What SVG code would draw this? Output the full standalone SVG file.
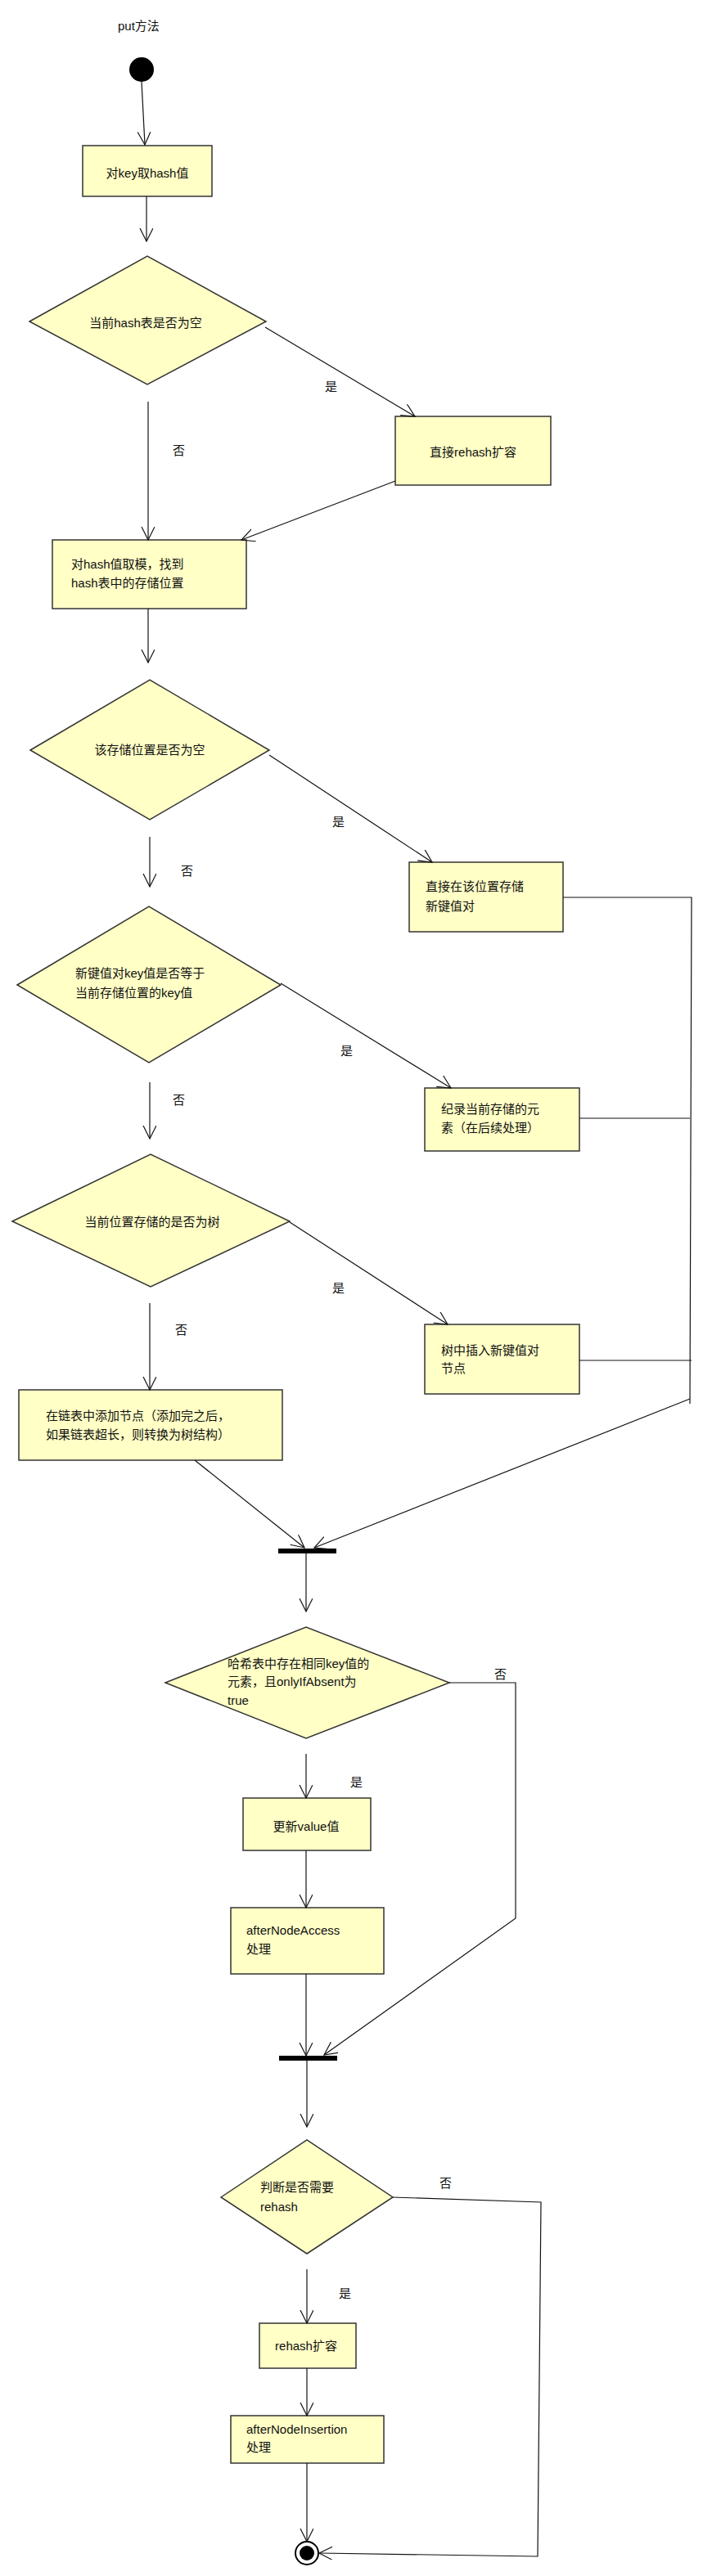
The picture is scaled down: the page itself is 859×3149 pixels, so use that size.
<svg xmlns="http://www.w3.org/2000/svg" width="859" height="3149" viewBox="0 0 859 3149">
<style>
.n{fill:#ffffc6;stroke:#333;stroke-width:1.5}
.c{fill:none;stroke:#111;stroke-width:1.2}
.t{font-family:"Liberation Sans","Noto Sans CJK SC",sans-serif;font-size:15px;fill:#111}
.m{text-anchor:middle}
</style>
<defs>
<marker id="a" markerUnits="userSpaceOnUse" markerWidth="20" markerHeight="20" refX="16" refY="8" orient="auto">
<path d="M0,0 L16,8 L0,16" fill="none" stroke="#111" stroke-width="1.2"/>
</marker>
</defs>
<rect width="859" height="3149" fill="#fff"/>
<text class="t" x="144" y="37">put方法</text>
<g id="start"><circle cx="173" cy="85" r="15" fill="#000"/></g>
<g id="n1"><rect class="n" x="101" y="178" width="158" height="62"/><text class="t m" x="180" y="217">对key取hash值</text></g>
<g id="d1"><polygon class="n" points="36,393 180,313 325,393 180,470"/><text class="t m" x="178" y="400">当前hash表是否为空</text></g>
<g id="n2"><rect class="n" x="483" y="509" width="190" height="84"/><text class="t m" x="578" y="558">直接rehash扩容</text></g>
<g id="n3"><rect class="n" x="64" y="660" width="237" height="84"/><text class="t" x="87" y="695">对hash值取模，找到</text><text class="t" x="87" y="718">hash表中的存储位置</text></g>
<g id="d2"><polygon class="n" points="37,917 183,831 329,917 183,1002"/><text class="t m" x="183" y="922">该存储位置是否为空</text></g>
<g id="n4"><rect class="n" x="500" y="1054" width="188" height="85"/><text class="t" x="520" y="1089">直接在该位置存储</text><text class="t" x="520" y="1113">新键值对</text></g>
<g id="d3"><polygon class="n" points="21,1204 182,1108 343,1204 182,1299"/><text class="t" x="92" y="1195">新键值对key值是否等于</text><text class="t" x="92" y="1219">当前存储位置的key值</text></g>
<g id="n5"><rect class="n" x="519" y="1330" width="189" height="77"/><text class="t" x="539" y="1361">纪录当前存储的元</text><text class="t" x="539" y="1384">素（在后续处理）</text></g>
<g id="d4"><polygon class="n" points="15,1493 184,1411 354,1493 184,1573"/><text class="t m" x="186" y="1499">当前位置存储的是否为树</text></g>
<g id="n6"><rect class="n" x="519" y="1619" width="189" height="85"/><text class="t" x="539" y="1656">树中插入新键值对</text><text class="t" x="539" y="1678">节点</text></g>
<g id="n7"><rect class="n" x="23" y="1699" width="322" height="86"/><text class="t" x="56" y="1736">在链表中添加节点（添加完之后，</text><text class="t" x="56" y="1759">如果链表超长，则转换为树结构）</text></g>
<g id="fork1"><rect x="340" y="1893" width="71" height="6" fill="#000"/></g>
<g id="d5"><polygon class="n" points="202,2057 374,1989 549,2057 374,2125"/><text class="t" x="278" y="2039" font-size="14">哈希表中存在相同key值的</text><text class="t" x="278" y="2061" font-size="14">元素，且onlyIfAbsent为</text><text class="t" x="278" y="2084" font-size="14">true</text></g>
<g id="n8"><rect class="n" x="297" y="2198" width="156" height="64"/><text class="t m" x="374" y="2238">更新value值</text></g>
<g id="n9"><rect class="n" x="282" y="2332" width="187" height="81"/><text class="t" x="301" y="2365">afterNodeAccess</text><text class="t" x="301" y="2388">处理</text></g>
<g id="fork2"><rect x="341" y="2513" width="71" height="6" fill="#000"/></g>
<g id="d6"><polygon class="n" points="270,2686 375,2616 480,2686 375,2755"/><text class="t" x="318" y="2679">判断是否需要</text><text class="t" x="318" y="2703">rehash</text></g>
<g id="n10"><rect class="n" x="317" y="2840" width="118" height="55"/><text class="t m" x="374" y="2873">rehash扩容</text></g>
<g id="n11"><rect class="n" x="282" y="2953" width="187" height="58"/><text class="t" x="301" y="2975">afterNodeInsertion</text><text class="t" x="301" y="2997">处理</text></g>
<g id="end"><circle cx="375" cy="3121" r="14" fill="#fff" stroke="#000" stroke-width="2"/><circle cx="375" cy="3121" r="9" fill="#000"/></g>
<g id="connectors">
<line class="c" x1="173" y1="100" x2="177" y2="177" marker-end="url(#a)"/>
<line class="c" x1="179" y1="240" x2="179" y2="295" marker-end="url(#a)"/>
<line class="c" x1="324" y1="400" x2="507" y2="509" marker-end="url(#a)"/>
<text class="t" x="397" y="478">是</text>
<line class="c" x1="181" y1="491" x2="181" y2="660" marker-end="url(#a)"/>
<text class="t" x="211" y="556">否</text>
<line class="c" x1="483" y1="588" x2="295" y2="660" marker-end="url(#a)"/>
<line class="c" x1="181" y1="744" x2="181" y2="810" marker-end="url(#a)"/>
<line class="c" x1="329" y1="923" x2="528" y2="1054" marker-end="url(#a)"/>
<text class="t" x="406" y="1010">是</text>
<line class="c" x1="183" y1="1023" x2="183" y2="1084" marker-end="url(#a)"/>
<text class="t" x="221" y="1070">否</text>
<polyline class="c" points="688,1097 845,1097 843,1716"/>
<line class="c" x1="343" y1="1202" x2="551" y2="1330" marker-end="url(#a)"/>
<text class="t" x="416" y="1290">是</text>
<line class="c" x1="183" y1="1323" x2="183" y2="1392" marker-end="url(#a)"/>
<text class="t" x="211" y="1350">否</text>
<line class="c" x1="708" y1="1367" x2="843" y2="1367"/>
<line class="c" x1="354" y1="1494" x2="547" y2="1619" marker-end="url(#a)"/>
<text class="t" x="406" y="1580">是</text>
<line class="c" x1="183" y1="1593" x2="183" y2="1699" marker-end="url(#a)"/>
<text class="t" x="214" y="1631">否</text>
<line class="c" x1="708" y1="1663" x2="845" y2="1663"/>
<line class="c" x1="238" y1="1785" x2="372" y2="1892" marker-end="url(#a)"/>
<line class="c" x1="843" y1="1710" x2="384" y2="1892" stroke-width="2.5" marker-end="url(#a)"/>
<line class="c" x1="374" y1="1899" x2="374" y2="1970" marker-end="url(#a)"/>
<polyline class="c" points="549,2057 630,2057 630,2345 396,2512" marker-end="url(#a)"/>
<text class="t" x="604" y="2052">否</text>
<line class="c" x1="374" y1="2144" x2="374" y2="2198" marker-end="url(#a)"/>
<text class="t" x="428" y="2184">是</text>
<line class="c" x1="374" y1="2262" x2="374" y2="2332" marker-end="url(#a)"/>
<line class="c" x1="374" y1="2413" x2="374" y2="2513" marker-end="url(#a)"/>
<line class="c" x1="375" y1="2519" x2="375" y2="2600" marker-end="url(#a)"/>
<polyline class="c" points="480,2686 661,2692 657,3125 390,3121" marker-end="url(#a)"/>
<text class="t" x="537" y="2674">否</text>
<line class="c" x1="375" y1="2774" x2="375" y2="2840" marker-end="url(#a)"/>
<text class="t" x="414" y="2809">是</text>
<line class="c" x1="375" y1="2895" x2="375" y2="2953" marker-end="url(#a)"/>
<line class="c" x1="375" y1="3011" x2="375" y2="3107" marker-end="url(#a)"/>
</g>
</svg>
